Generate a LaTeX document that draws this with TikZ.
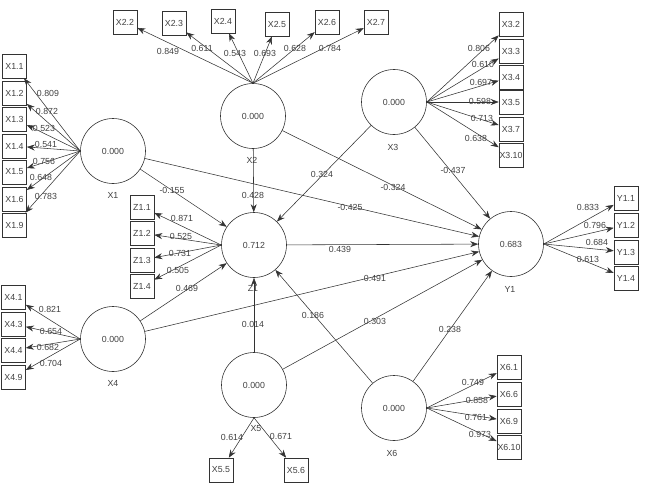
\documentclass[tikz,border=0pt]{standalone}
\usepackage{fontspec}
\setmainfont{Liberation Sans}
\usetikzlibrary{arrows.meta}
\begin{document}
\begin{tikzpicture}[x=1pt,y=-1pt,
  lv/.style={circle,draw=black!80,line width=0.6pt,minimum size=65pt,inner sep=0pt,font=\fontsize{8.8}{10}\selectfont,text=black!75},
  mv/.style={rectangle,draw=black!80,line width=0.6pt,minimum width=24pt,minimum height=24pt,inner sep=0pt,font=\fontsize{8.8}{10}\selectfont,text=black!75},
  lvname/.style={font=\fontsize{8.8}{10}\selectfont,text=black!75,inner sep=0pt},
  wt/.style={font=\fontsize{8.8}{10}\selectfont,text=black!75,inner sep=0pt},
  arr/.style={draw=black!80,line width=0.55pt,-{Stealth[length=8pt,width=6pt]}},
]
\useasboundingbox (0,0) rectangle (645,495);

% latent variables
\node[lv] (X1) at (113,151) {0.000};
\node[lv] (X2) at (253,116) {0.000};
\node[lv] (X3) at (394,102) {0.000};
\node[lv] (Z1) at (254,245) {0.712};
\node[lv] (Y1) at (511,244) {0.683};
\node[lv] (X4) at (113,339) {0.000};
\node[lv] (X5) at (254,385) {0.000};
\node[lv] (X6) at (394,408) {0.000};

\node[lvname] (nX1) at (113,195) {X1};
\node[lvname] (nX2) at (252,160) {X2};
\node[lvname] (nX3) at (393,147) {X3};
\node[lvname] (nZ1) at (253,288) {Z1};
\node[lvname] (nY1) at (510,289) {Y1};
\node[lvname] (nX4) at (113,383) {X4};
\node[lvname] (nX5) at (256,429) {X5};
\node[lvname] (nX6) at (392,453) {X6};

% indicators X1
\node[mv] (x11) at (14.5,66) {X1.1};
\node[mv] (x12) at (14.5,93) {X1.2};
\node[mv] (x13) at (14.5,119) {X1.3};
\node[mv] (x14) at (14.5,146) {X1.4};
\node[mv] (x15) at (14.5,172) {X1.5};
\node[mv] (x16) at (14.5,199) {X1.6};
\node[mv] (x19) at (14.5,225) {X1.9};
% X2
\node[mv] (x22) at (125,22) {X2.2};
\node[mv] (x23) at (174,23) {X2.3};
\node[mv] (x24) at (223,21) {X2.4};
\node[mv] (x25) at (277,24) {X2.5};
\node[mv] (x26) at (327,22) {X2.6};
\node[mv] (x27) at (376,22) {X2.7};
% X3
\node[mv] (x32) at (511,24) {X3.2};
\node[mv] (x33) at (511,51) {X3.3};
\node[mv] (x34) at (511,77) {X3.4};
\node[mv] (x35) at (511,102) {X3.5};
\node[mv] (x37) at (511,129) {X3.7};
\node[mv] (x310) at (511,155) {X3.10};
% Y1
\node[mv] (y11) at (626,198) {Y1.1};
\node[mv] (y12) at (626,225) {Y1.2};
\node[mv] (y13) at (626,252) {Y1.3};
\node[mv] (y14) at (626,278) {Y1.4};
% Z1
\node[mv] (z11) at (142,207) {Z1.1};
\node[mv] (z12) at (142,233) {Z1.2};
\node[mv] (z13) at (142,260) {Z1.3};
\node[mv] (z14) at (142,286) {Z1.4};
% X4
\node[mv] (x41) at (13.5,297) {X4.1};
\node[mv] (x43) at (13.5,324) {X4.3};
\node[mv] (x44) at (13.5,350) {X4.4};
\node[mv] (x49) at (13.5,377) {X4.9};
% X5
\node[mv] (x55) at (221,470) {X5.5};
\node[mv] (x56) at (296,470) {X5.6};
% X6
\node[mv] (x61) at (509,367) {X6.1};
\node[mv] (x66) at (509,394) {X6.6};
\node[mv] (x69) at (509,421) {X6.9};
\node[mv] (x610) at (509,447) {X6.10};

% outer model arrows
\foreach \t in {x11,x12,x13,x14,x15,x16,x19} \draw[arr] (X1.west) -- (\t);
\foreach \t in {x22,x23,x24,x25,x26,x27} \draw[arr] (X2.north) -- (\t);
\foreach \t in {x32,x33,x34,x35,x37,x310} \draw[arr] (X3.east) -- (\t);
\foreach \t in {y11,y12,y13,y14} \draw[arr] (Y1.east) -- (\t);
\foreach \t in {z11,z12,z13,z14} \draw[arr] (Z1.west) -- (\t);
\foreach \t in {x41,x43,x44,x49} \draw[arr] (X4.west) -- (\t);
\foreach \t in {x55,x56} \draw[arr] (X5.south) -- (\t);
\foreach \t in {x61,x66,x69,x610} \draw[arr] (X6.east) -- (\t);

% inner model arrows
\draw[arr] (X1) -- (Z1);
\draw[arr] (X1) -- (Y1);
\draw[arr] (X2) -- (Z1);
\draw[arr] (X2) -- (Y1);
\draw[arr] (X3) -- (Z1);
\draw[arr] (X3) -- (Y1);
\draw[arr] (Z1) -- (Y1);
\draw[arr] (X4) -- (Z1);
\draw[arr] (X4) -- (Y1);
\draw[arr] (X5) -- (Z1);
\draw[arr] (X5) -- (Y1);
\draw[arr] (X6) -- (Z1);
\draw[arr] (X6) -- (Y1);

% inner labels
\node[wt] (p1) at (172,190) {-0.155};
\node[wt] (p2) at (350,207) {-0.425};
\node[wt] (p3) at (253,195) {0.428};
\node[wt] (p4) at (393,187) {-0.324};
\node[wt] (p5) at (322,174) {0.324};
\node[wt] (p6) at (453,170) {-0.437};
\node[wt] (p7) at (340,249) {0.439};
\node[wt] (p8) at (187,288) {0.469};
\node[wt] (p9) at (375,278) {0.491};
\node[wt] (p10) at (253,324) {0.014};
\node[wt] (p11) at (375,321) {0.303};
\node[wt] (p12) at (313,315) {0.186};
\node[wt] (p13) at (450,329) {0.238};

% outer labels X1
\node[wt] (l11) at (48,93) {0.809};
\node[wt] (l12) at (47,111) {0.872};
\node[wt] (l13) at (44,128) {0.523};
\node[wt] (l14) at (46,144) {0.541};
\node[wt] (l15) at (44,161) {0.756};
\node[wt] (l16) at (41,177) {0.648};
\node[wt] (l19) at (46,196) {0.783};
% X2
\node[wt] (l22) at (168,51) {0.849};
\node[wt] (l23) at (202,48) {0.611};
\node[wt] (l24) at (235,53) {0.543};
\node[wt] (l25) at (265,53) {0.693};
\node[wt] (l26) at (295,48) {0.628};
\node[wt] (l27) at (330,48) {0.784};
% X3
\node[wt] (l32) at (479,48) {0.806};
\node[wt] (l33) at (483,64) {0.610};
\node[wt] (l34) at (481,82) {0.697};
\node[wt] (l35) at (480,101) {0.598};
\node[wt] (l37) at (482,118) {0.713};
\node[wt] (l310) at (476,138) {0.638};
% Y1
\node[wt] (ly1) at (588,207) {0.833};
\node[wt] (ly2) at (595,225) {0.796};
\node[wt] (ly3) at (597,242) {0.684};
\node[wt] (ly4) at (588,259) {0.613};
% Z1
\node[wt] (lz1) at (182,218) {0.871};
\node[wt] (lz2) at (181,236) {0.525};
\node[wt] (lz3) at (180,253) {0.731};
\node[wt] (lz4) at (178,270) {0.505};
% X4
\node[wt] (l41) at (50,309) {0.821};
\node[wt] (l43) at (51,331) {0.654};
\node[wt] (l44) at (48,347) {0.682};
\node[wt] (l49) at (51,363) {0.704};
% X5
\node[wt] (l55) at (232,437) {0.614};
\node[wt] (l56) at (281,436) {0.671};
% X6
\node[wt] (l61) at (473,382) {0.749};
\node[wt] (l66) at (477,400) {0.858};
\node[wt] (l69) at (476,417) {0.761};
\node[wt] (l610) at (480,434) {0.973};
\end{tikzpicture}
\end{document}
